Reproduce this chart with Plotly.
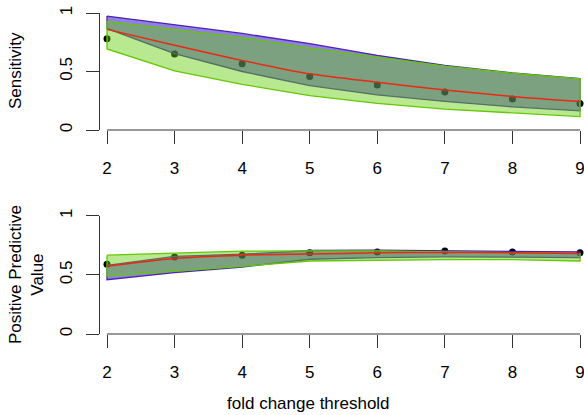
import plotly.graph_objects as go

thresholds = [2, 3, 4, 5, 6, 7, 8, 9]
x_ticks = [2, 3, 4, 5, 6, 7, 8, 9]
y_ticks = [0, 0.5, 1]
y_tick_text = ["0", "0.5", "1"]

# Sensitivity panel
sens_points = [0.78, 0.65, 0.566, 0.457, 0.385, 0.325, 0.265, 0.227]
sens_fit = [0.86, 0.725, 0.595, 0.48, 0.408, 0.342, 0.287, 0.244]
sens_purple_upper = [0.974, 0.90, 0.825, 0.739, 0.638, 0.552, 0.487, 0.44]
sens_purple_lower = [0.868, 0.652, 0.50, 0.38, 0.30, 0.244, 0.198, 0.164]
sens_green_upper = [0.928, 0.862, 0.79, 0.70, 0.623, 0.546, 0.485, 0.437]
sens_green_lower = [0.693, 0.505, 0.39, 0.293, 0.227, 0.178, 0.144, 0.115]

# Positive predictive value panel
ppv_points = [0.59, 0.651, 0.666, 0.686, 0.694, 0.702, 0.694, 0.686]
ppv_fit = [0.572, 0.638, 0.666, 0.676, 0.686, 0.689, 0.686, 0.68]
ppv_purple_upper = [0.58, 0.657, 0.674, 0.706, 0.708, 0.705, 0.70, 0.694]
ppv_purple_lower = [0.459, 0.519, 0.566, 0.632, 0.646, 0.652, 0.65, 0.646]
ppv_green_upper = [0.666, 0.68, 0.70, 0.703, 0.703, 0.694, 0.69, 0.68]
ppv_green_lower = [0.49, 0.532, 0.572, 0.617, 0.623, 0.629, 0.629, 0.617]

W, H = 584, 415
FONT = "Liberation Sans, Arial, sans-serif"
PURPLE_FILL = "rgba(35,0,200,0.5)"
PURPLE_LINE = "rgb(75,35,175)"
GREEN_FILL = "rgba(98,204,8,0.45)"
GREEN_LINE = "rgb(100,200,0)"
RED = "rgb(235,40,20)"

fig = go.Figure()


def band(xs, upper, lower, fill, line, xa, ya):
    px = list(xs) + list(reversed(xs)) + [xs[0]]
    py = list(upper) + list(reversed(lower)) + [upper[0]]
    return go.Scatter(x=px, y=py, mode="lines", fill="toself", fillcolor=fill,
                      line=dict(color=line, width=1.3), xaxis=xa, yaxis=ya,
                      hoverinfo="skip", showlegend=False)


panels = [
    ("x", "y", sens_points, sens_fit, sens_purple_upper, sens_purple_lower,
     sens_green_upper, sens_green_lower),
    ("x2", "y2", ppv_points, ppv_fit, ppv_purple_upper, ppv_purple_lower,
     ppv_green_upper, ppv_green_lower),
]

for xa, ya, pts, fit, pu, pl, gu, gl in panels:
    fig.add_trace(go.Scatter(x=thresholds, y=pts, mode="markers",
                             marker=dict(color="black", size=7),
                             xaxis=xa, yaxis=ya, cliponaxis=False, showlegend=False))
    fig.add_trace(band(thresholds, pu, pl, PURPLE_FILL, PURPLE_LINE, xa, ya))
    fig.add_trace(band(thresholds, gu, gl, GREEN_FILL, GREEN_LINE, xa, ya))
    fig.add_trace(go.Scatter(x=thresholds, y=fit, mode="lines",
                             line=dict(color=RED, width=1.5, shape="spline", smoothing=0.8),
                             xaxis=xa, yaxis=ya, showlegend=False))

x_dom = [100 / W, 1.0]
x_range = [2 - 7 / 67.57, 9 + 4 / 67.57]
top_dom = [1 - 130 / H, 1 - 13 / H]
bot_dom = [1 - 334 / H, 1 - 215.7 / H]

xaxis_common = dict(range=x_range, domain=x_dom, showgrid=False, zeroline=False,
                    showline=False, ticks="outside", ticklen=13, tickwidth=1,
                    tickcolor="#333333", tickvals=x_ticks,
                    ticktext=[str(v) for v in x_ticks],
                    tickfont=dict(family=FONT, size=17, color="black"),
                    ticklabelstandoff=10, ticklabeloverflow="allow", fixedrange=True)
yaxis_common = dict(range=[0, 1], showgrid=False, zeroline=False, showline=True,
                    linecolor="#333333", linewidth=1, ticks="outside", ticklen=13,
                    tickwidth=1, tickcolor="#333333", tickvals=y_ticks,
                    ticktext=y_tick_text, tickangle=-90,
                    tickfont=dict(family=FONT, size=17, color="black"),
                    ticklabelstandoff=7, ticklabeloverflow="allow", fixedrange=True)

fig.update_layout(
    width=W, height=H,
    margin=dict(l=0, r=0, t=0, b=0, autoexpand=False),
    paper_bgcolor="white", plot_bgcolor="white",
    showlegend=False,
    xaxis=dict(xaxis_common, anchor="y"),
    yaxis=dict(yaxis_common, domain=top_dom, anchor="x"),
    xaxis2=dict(xaxis_common, anchor="y2"),
    yaxis2=dict(yaxis_common, domain=bot_dom, anchor="x2"),
    annotations=[
        dict(text="Sensitivity", x=16 / W, y=1 - 71 / H, xref="paper", yref="paper",
             textangle=-90, showarrow=False, xanchor="center", yanchor="middle",
             font=dict(family=FONT, size=17, color="black")),
        dict(text="Positive Predictive<br>Value", x=26 / W, y=1 - 275 / H,
             xref="paper", yref="paper", textangle=-90, showarrow=False,
             xanchor="center", yanchor="middle",
             font=dict(family=FONT, size=17, color="black")),
        dict(text="fold change threshold", x=308.5 / W, y=1 - 403 / H,
             xref="paper", yref="paper", showarrow=False,
             xanchor="center", yanchor="middle",
             font=dict(family=FONT, size=17, color="black")),
    ],
    shapes=[
        dict(type="line", xref="x", yref="y domain", x0=min(x_ticks), x1=max(x_ticks),
             y0=0, y1=0, line=dict(color="#333333", width=1)),
        dict(type="line", xref="x2", yref="y2 domain", x0=min(x_ticks), x1=max(x_ticks),
             y0=0, y1=0, line=dict(color="#333333", width=1)),
    ],
)

fig.write_html("out.html",
               config={"displayModeBar": False, "staticPlot": True},
               post_script="document.body.style.margin='0px';"
                           "document.body.style.overflow='hidden';")
